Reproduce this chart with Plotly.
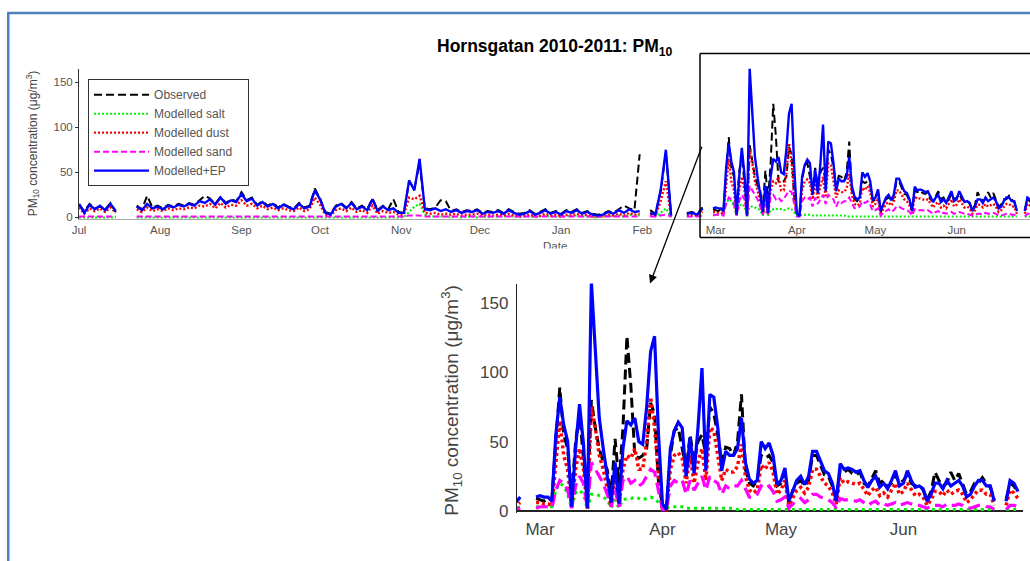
import pandas as pd
import plotly.graph_objects as go

N = None

# ---------------- data (PM10, ug/m3) ----------------
# Jul 1 2010 .. Feb 28 2011, one value every 2 days
EARLY_START = "2010-07-01"
EARLY_OBS = [14,7,15,10,12,9,16,6,N,N,
             N,13,9,24,11,13,10,14,12,15,
             13,16,14,19,24,21,15,23,16,20,
             18,28,19,22,14,18,13,16,11,15,
             12,10,16,11,13,32,21,6,4,13,
             16,11,17,10,13,9,21,8,13,9,
             20,6,5,40,32,60,10,9,11,19,
             18,7,9,6,8,7,9,5,7,6,
             8,5,9,6,4,5,8,4,6,9,
             5,7,4,8,6,9,5,7,4,3,
             4,7,5,9,13,10,8,70,N,8,
             4,28,72,3,N,N,5,6,4,11,
             N,9]
EARLY_SALT = [0,0,0,0,0,0,0,0,N,N,
              N,0,0,0,0,0,0,0,0,0,
              0,0,0,0,0,0,0,0,0,0,
              0,0,0,0,0,0,0,0,0,0,
              0,0,0,0,0,0,0,0,0,0,
              0,0,0,0,0,0,0,0,0,0,
              0,0,0,6,12,15,3,1,1,1,
              1,0,1,0,1,1,0,1,0,1,
              1,1,2,1,0,1,1,0,1,2,
              1,1,0,2,1,2,1,1,0,0,
              1,2,1,2,1,3,2,2,N,2,
              1,5,10,0,N,N,1,2,1,3,
              N,3]
EARLY_DUST = [11,4,10,7,10,6,11,5,N,N,
              N,9,6,11,7,9,7,10,8,10,
              9,11,10,13,12,15,10,16,11,14,
              13,19,13,15,10,13,9,11,8,10,
              8,7,11,7,9,22,14,3,2,8,
              10,7,11,6,8,5,13,4,7,5,
              6,3,3,22,20,24,5,4,5,3,
              4,3,4,2,3,3,4,2,3,2,
              3,2,4,2,1,2,3,1,2,4,
              2,3,1,3,2,4,2,3,1,1,
              1,3,2,4,2,5,3,4,N,3,
              2,18,40,1,N,N,2,3,2,6,
              N,6]
EARLY_SAND = [1,1,1,1,1,1,1,1,N,N,
              N,1,1,1,1,1,1,1,1,1,
              1,1,1,1,1,1,1,1,1,1,
              1,1,1,1,1,1,1,1,1,1,
              1,1,1,1,1,1,1,1,1,1,
              1,1,1,1,1,1,1,1,1,1,
              1,1,1,2,2,2,1,1,1,1,
              1,1,1,1,1,1,1,1,1,1,
              1,1,1,1,1,1,1,1,1,1,
              1,1,1,1,1,1,1,1,1,1,
              1,1,1,1,1,1,1,1,N,1,
              1,2,3,1,N,N,1,1,1,2,
              N,2]
EARLY_EP = [15,5,14,9,13,8,15,7,N,N,
            N,12,8,15,10,12,9,13,11,14,
            12,15,13,18,16,20,14,22,15,19,
            17,26,18,21,13,17,12,15,10,14,
            11,9,15,10,12,30,20,5,3,12,
            15,10,16,9,12,8,20,7,12,8,
            10,5,5,41,30,65,9,8,10,7,
            9,6,8,5,7,6,8,4,6,5,
            7,4,8,5,3,4,7,3,5,8,
            4,6,3,7,5,8,4,6,3,2,
            3,6,4,8,5,9,6,7,N,5,
            3,30,75,2,N,N,4,5,3,10,
            N,10]

# Mar 1 2011 .. Jun 30 2011, daily
LATE_START = "2011-03-01"
LATE_OBS = [8,7,9,8,50,89,55,45,10,50,
            70,40,5,80,60,45,35,30,10,52,
            20,60,126,90,40,38,40,45,78,70,
            20,4,3,40,58,60,45,30,55,35,
            50,55,40,75,70,55,35,46,45,40,
            50,84,30,20,18,22,40,38,40,35,
            18,20,28,5,15,20,22,18,22,40,
            40,33,26,25,18,8,30,28,30,27,
            26,28,20,18,24,29,20,22,17,20,
            26,20,22,26,20,18,19,15,8,14,
            28,22,18,20,28,22,27,20,12,14,
            20,20,24,20,17,8,N,N,8,20,
            18,13]
LATE_SALT = [3,3,3,3,15,20,18,12,2,13,
             15,12,1,12,12,11,10,8,2,8,
             2,8,9,9,10,9,8,9,10,9,
             6,2,2,3,3,3,3,2,2,2,
             2,2,2,2,2,2,2,2,2,2,
             1,1,1,1,1,1,1,1,1,1,
             1,1,1,1,1,1,1,1,1,1,
             1,1,1,1,1,1,1,1,1,1,
             1,1,1,1,1,1,1,1,1,1,
             1,1,1,1,1,1,1,1,1,1,
             1,1,1,1,1,1,1,1,1,1,
             1,1,1,1,1,1,N,N,1,1,
             1,1]
LATE_DUST = [6,5,5,4,35,65,40,30,2,30,
             45,30,1,75,60,40,30,15,3,25,
             3,30,40,38,45,30,30,50,82,60,
             25,2,1,30,40,42,38,20,40,20,
             35,45,22,60,58,40,22,30,28,28,
             32,48,25,15,13,15,33,30,35,28,
             12,15,22,4,10,15,17,13,17,30,
             30,25,20,18,13,5,24,20,21,20,
             19,20,15,11,15,17,11,13,10,15,
             20,12,14,20,15,11,12,10,4,8,
             14,14,11,15,12,14,15,12,6,8,
             12,15,15,12,12,4,N,N,4,15,
             13,9]
LATE_SAND = [3,3,3,2,15,22,20,15,2,18,
             25,20,2,35,30,25,20,12,3,15,
             3,22,25,20,22,18,20,25,30,28,
             15,1,1,18,22,20,22,12,22,15,
             20,25,15,25,22,20,12,18,16,18,
             18,22,16,10,10,12,18,16,18,14,
             7,8,10,2,5,7,9,6,8,12,
             12,10,9,8,6,2,9,8,8,8,
             7,8,6,4,6,7,4,5,4,5,
             6,4,5,6,5,4,4,3,2,3,
             4,4,3,5,4,4,5,4,2,2,
             3,4,4,3,3,1,N,N,1,4,
             4,3]
LATE_EP = [11,10,10,7,55,82,62,50,3,45,
           77,48,2,165,112,67,45,25,6,35,
           5,45,65,62,67,50,48,75,115,126,
           55,5,1,45,58,64,60,25,53,27,
           60,103,29,84,82,60,29,43,40,40,
           45,67,35,23,20,22,50,45,49,40,
           19,22,31,7,15,22,25,19,25,43,
           43,36,29,27,20,7,34,30,31,30,
           28,29,22,17,22,25,17,20,16,22,
           29,18,20,29,22,17,18,16,7,12,
           20,20,16,22,18,20,22,18,10,12,
           18,22,22,18,18,7,N,N,7,22,
           20,14]

MONTH_TICKS = ["2010-07-01", "2010-08-01", "2010-09-01", "2010-10-01", "2010-11-01",
               "2010-12-01", "2011-01-01", "2011-02-01", "2011-03-01", "2011-04-01",
               "2011-05-01", "2011-06-01"]
MONTH_LABELS = ["Jul", "Aug", "Sep", "Oct", "Nov", "Dec", "Jan", "Feb", "Mar", "Apr", "May", "Jun"]

dates = (list(pd.date_range(EARLY_START, periods=len(EARLY_EP), freq="2D")) +
         list(pd.date_range(LATE_START, periods=len(LATE_EP), freq="D")))

series = [
    ("Observed", EARLY_OBS + LATE_OBS, "black", "8px,4px", 2.0, "10px,5px", 3.0),
    ("Modelled salt", EARLY_SALT + LATE_SALT, "#00ee00", "2px,2px", 2.0, "3px,4px", 3.0),
    ("Modelled dust", EARLY_DUST + LATE_DUST, "#ff0000", "2px,2px", 2.4, "3px,3px", 3.5),
    ("Modelled sand", EARLY_SAND + LATE_SAND, "#ff00ff", "6px,3px", 2.0, "12px,6px", 3.2),
    ("Modelled+EP", EARLY_EP + LATE_EP, "#0000ff", "solid", 2.4, "solid", 3.2),
]

FONT = "Liberation Sans, Arial, sans-serif"

# figure size in page pixels; the photographed picture maps page -> picture with a
# small fixed offset/scale, so layout positions are given in picture pixels and converted
W, H = 1030, 570
SX, OX = 1037 / 1030, 7.0
SY = 570 / 561


def X(xt):
    return xt * SX - OX


def Y(yt):
    return yt * SY


def px(xt):
    return X(xt) / W


def py(yt):
    return 1 - Y(yt) / H


fig = go.Figure()
for name, vals, col, dash1, w1, dash2, w2 in series:
    fig.add_trace(go.Scatter(x=dates, y=vals, mode="lines", name=name + "\u00a0\u00a0\u00a0",
                             line=dict(color=col, dash=dash1, width=w1),
                             xaxis="x", yaxis="y", hoverinfo="skip"))
for name, vals, col, dash1, w1, dash2, w2 in series:
    fig.add_trace(go.Scatter(x=dates, y=vals, mode="lines", name=name, showlegend=False,
                             line=dict(color=col, dash=dash2, width=w2),
                             xaxis="x2", yaxis="y2", hoverinfo="skip"))


def seg(x0, y0, x1, y1, color, width):
    return dict(type="line", xref="paper", yref="paper",
                x0=min(max(px(x0), 0.0), 1.0), y0=py(y0),
                x1=min(max(px(x1), 0.0), 1.0), y1=py(y1),
                line=dict(color=color, width=width))


fig.update_layout(
    width=W, height=H,
    margin=dict(l=0, r=0, t=0, b=0),
    paper_bgcolor="white", plot_bgcolor="rgba(0,0,0,0)",
    font=dict(family=FONT, color="#555"),
    hovermode=False,
    xaxis=dict(domain=[px(79), 1.0], range=["2010-07-01", "2011-06-29"],
               tickvals=MONTH_TICKS, ticktext=MONTH_LABELS,
               ticks="",
               tickfont=dict(size=11.5, color="#555"),
               showgrid=False, zeroline=False, showline=True, linecolor="#aaa", linewidth=1),
    yaxis=dict(domain=[py(218.8), py(68.5)], range=[-2, 165],
               tickvals=[0, 50, 100, 150], ticks="outside", ticklen=3, tickcolor="#333",
               tickfont=dict(size=11.5, color="#555"),
               showgrid=False, zeroline=False, showline=True, linecolor="#333", linewidth=1),
    xaxis2=dict(domain=[px(517), px(1023)],
                range=["2011-02-23 04:15", "2011-07-01 06:40"],
                tickvals=MONTH_TICKS[8:], ticktext=MONTH_LABELS[8:],
                ticks="outside", ticklen=1, tickcolor="rgba(0,0,0,0)",
                tickfont=dict(size=17, color="#444"),
                showgrid=False, zeroline=False, showline=False, anchor="y2"),
    yaxis2=dict(domain=[py(512.1), py(283)], range=[-1.5, 164],
                tickvals=[0, 50, 100, 150], ticks="outside", ticklen=4, tickcolor="rgba(0,0,0,0)",
                tickfont=dict(size=17, color="#444"),
                showgrid=False, zeroline=True, zerolinecolor="#222", zerolinewidth=1.2,
                showline=True, linecolor="#222", linewidth=1.2, anchor="x2"),
    legend=dict(x=px(88), y=py(79), xanchor="left", yanchor="top",
                bgcolor="white", bordercolor="#333", borderwidth=1,
                font=dict(size=12, color="#555", family=FONT),
                itemwidth=55, tracegroupgap=0),
    shapes=[
        # outer blue frame (left and top edges; the rest lies outside the picture)
        seg(8.2, 13, 8.2, 561, "#4F81BD", 2.5),
        seg(7, 13, 1030, 13, "#4F81BD", 2.5),
        # zoom box around Mar-Jun of the top panel
        seg(700, 53.5, 1030, 53.5, "black", 1.5),
        seg(700, 53.5, 700, 237, "black", 1.5),
        seg(700, 237, 1030, 237, "black", 1.5),
    ],
    annotations=[
        dict(text="<b>Hornsgatan 2010-2011: PM<sub>10</sub></b>", x=px(555), y=py(47),
             xref="paper", yref="paper", showarrow=False, xanchor="center", yanchor="middle",
             font=dict(size=17.5, color="black", family=FONT)),
        dict(text="PM<sub>10</sub> concentration (μg/m<sup>3</sup>)", x=px(33), y=py(143),
             xref="paper", yref="paper", showarrow=False, textangle=-90,
             xanchor="center", yanchor="middle",
             font=dict(size=12, color="#444", family=FONT)),
        dict(text="PM<sub>10</sub> concentration (μg/m<sup>3</sup>)", x=px(452), y=py(400),
             xref="paper", yref="paper", showarrow=False, textangle=-90,
             xanchor="center", yanchor="middle",
             font=dict(size=19, color="#444", family=FONT)),
        dict(text="Date", x=px(555), y=py(238), xref="paper", yref="paper", showarrow=False,
             xanchor="center", yanchor="top", font=dict(size=11.5, color="#555", family=FONT)),
        dict(text=" ", x=px(555), y=py(255.5), xref="paper", yref="paper", showarrow=False,
             xanchor="center", yanchor="middle", width=50, height=12, bgcolor="white"),
        dict(text="", x=px(650), y=py(283), xref="paper", yref="paper", showarrow=True,
             ax=X(702) - X(650), ay=Y(147) - Y(283),
             arrowhead=2, arrowsize=1.3, arrowwidth=1.3, arrowcolor="black"),
    ],
)

fig.write_html(
    "out.html",
    config={"displayModeBar": False, "staticPlot": True},
    post_script=("document.documentElement.style.margin='0px';"
                 "document.body.style.margin='0px';"
                 "document.documentElement.style.overflow='hidden';"
                 "document.body.style.overflow='hidden';"),
)
